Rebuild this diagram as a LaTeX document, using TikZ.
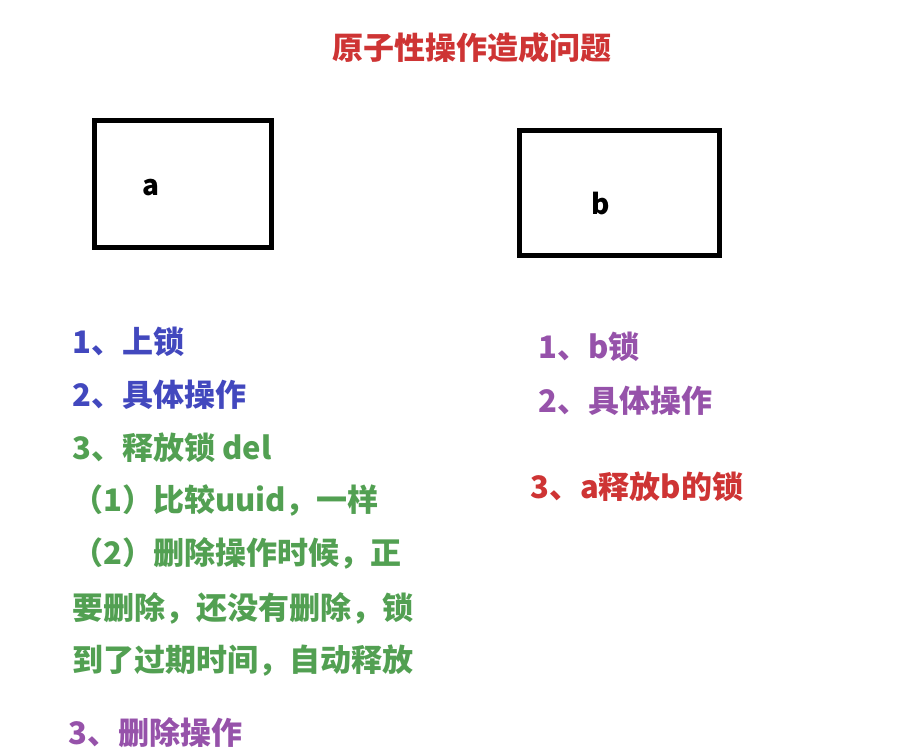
\documentclass[tikz,border=0pt]{standalone}
\usepackage{fontspec}
\setmainfont{Noto Sans CJK SC}
\definecolor{titlered}{RGB}{206,52,52}
\definecolor{lockblue}{RGB}{66,72,190}
\definecolor{lockgreen}{RGB}{82,160,82}
\definecolor{lockpurple}{RGB}{150,82,170}
\begin{document}
\begin{tikzpicture}[x=1pt, y=-1pt,
  box/.style={draw, line width=5pt, inner sep=0pt},
  item/.style={anchor=west, inner sep=0pt, font=\fontsize{31}{37}\selectfont\bfseries}]
\useasboundingbox[fill=white] (0,0) rectangle (914,754);
\node[font=\fontsize{31}{37}\selectfont\bfseries, titlered] (title) at (472,48) {原子性操作造成问题};
\node[box, minimum width=177pt, minimum height=127pt] (boxa) at (183,184){};
\node[box, minimum width=200pt, minimum height=125pt] (boxb) at (619.5,193){};
\node[font=\fontsize{28}{34}\selectfont\bfseries] (namea) at (151,188){a};
\node[font=\fontsize{28}{34}\selectfont\bfseries] (nameb) at (601,204){b};
\node[item, lockblue] (a1) at (72,342){1、上锁};
\node[item, lockblue] (a2) at (72,395){2、具体操作};
\node[item, lockgreen] (a3) at (72,448){3、释放锁 del};
\node[item, lockgreen] (a31) at (72,500){（1）比较uuid，一样};
\node[item, lockgreen] (a32) at (72,553){（2）删除操作时候，正};
\node[item, lockgreen] (a33) at (72,608){要删除，还没有删除，锁};
\node[item, lockgreen] (a34) at (72,661){到了过期时间，自动释放};
\node[item, lockpurple] (a4) at (68,733){3、删除操作};
\node[item, lockpurple] (b1) at (538,347){1、b锁};
\node[item, lockpurple] (b2) at (538,401){2、具体操作};
\node[item, titlered] (b3) at (530,487){3、a释放b的锁};
\end{tikzpicture}
\end{document}
